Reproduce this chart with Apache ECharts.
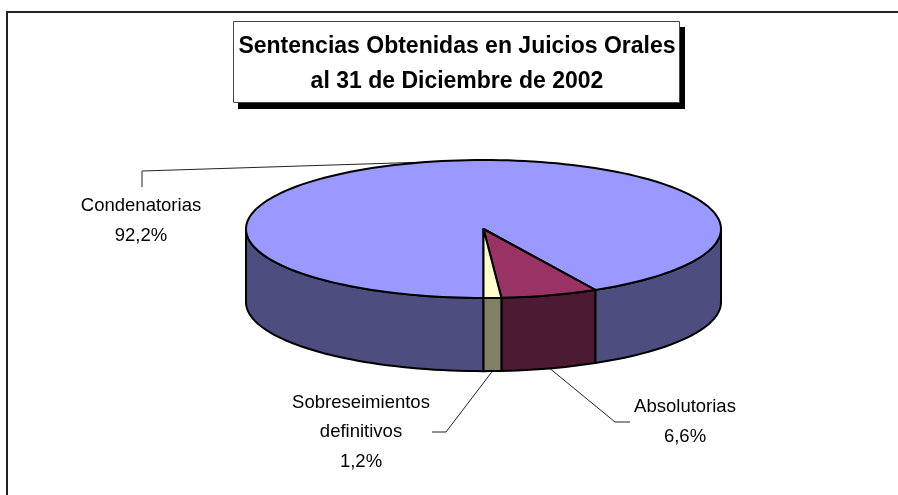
<!DOCTYPE html>
<html>
<head>
<meta charset="utf-8">
<style>
  html, body { margin: 0; padding: 0; background: #fff; }
  #chart { width: 898px; height: 495px; }
</style>
<script src="https://cdn.jsdelivr.net/npm/echarts@6/dist/echarts.min.js"></script>
</head>
<body>
<div id="chart"></div>
<script>
// datos
const categories = ['Condenatorias', 'Absolutorias', 'Sobreseimientos\ndefinitivos'];
const values = [92.2, 6.6, 1.2];
const titleText = 'Sentencias Obtenidas en Juicios Orales\nal 31 de Diciembre de 2002';

// colores de cada porcion
const topColors = ['#9999FF', '#993366', '#FFFFCC'];
const wallColors = ['#4D4D80', '#4D1A33', '#808066'];

// layout de etiquetas, en pixeles
const labelCenters = [[141, 221], [685, 422], [361, 432]];
const leaderElbows = [
  [[142, 171], [142, 187]],
  [[615, 422], [630, 422]],
  [[446, 432], [432, 432]]
];

const firstSliceAngle = 180;
const depth = 1.06; // alto de la pared en unidades del eje y

const total = values.reduce((a, b) => a + b, 0);
let acum = firstSliceAngle;
const sliceData = values.map((v, i) => {
  const start = acum;
  acum += v / total * 360;
  return [start, acum, i];
});

function arcPoints(api, from, to, drop) {
  const pts = [];
  const n = Math.max(2, Math.ceil(Math.abs(to - from) / 2));
  for (let k = 0; k <= n; k++) {
    const a = (from + (to - from) * k / n) * Math.PI / 180;
    pts.push(api.coord([Math.sin(a), Math.cos(a) - drop]));
  }
  return pts;
}

function renderSlice(params, api) {
  const start = api.value(0);
  const end = api.value(1);
  const i = api.value(2);
  const line = { stroke: '#000', lineWidth: 2, lineJoin: 'round' };
  const children = [];

  // paredes visibles: solo la mitad frontal de la elipse
  [[90, 270], [450, 630]].forEach(range => {
    const from = Math.max(start, range[0]);
    const to = Math.min(end, range[1]);
    if (to <= from) return;
    const upper = arcPoints(api, from, to, 0);
    const lower = arcPoints(api, from, to, depth).reverse();
    children.push({
      type: 'polygon',
      shape: { points: upper.concat(lower) },
      style: Object.assign({ fill: wallColors[i] }, line)
    });
  });

  // cara superior
  const center = api.coord([0, 0]);
  children.push({
    type: 'polygon',
    shape: { points: [center].concat(arcPoints(api, start, end, 0)) },
    style: Object.assign({ fill: topColors[i] }, line)
  });

  // linea guia desde la mitad de la porcion
  const mid = (start + end) / 2;
  const midNorm = mid % 360;
  const front = midNorm > 90 && midNorm < 270;
  const midRad = mid * Math.PI / 180;
  const anchor = api.coord([Math.sin(midRad), Math.cos(midRad) - (front ? depth : 0)]);
  children.unshift({
    type: 'polyline',
    shape: { points: [anchor].concat(leaderElbows[i]) },
    style: { stroke: '#222', lineWidth: 1, fill: null }
  });

  // etiqueta
  children.push({
    type: 'text',
    style: {
      text: categories[i] + '\n' + values[i].toFixed(1).replace('.', ',') + '%',
      x: labelCenters[i][0],
      y: labelCenters[i][1],
      align: 'center',
      verticalAlign: 'middle',
      fill: '#000',
      font: '18.5px "Liberation Sans", Arial, sans-serif',
      lineHeight: 29.5
    }
  });

  return { type: 'group', children: children };
}

const myChart = echarts.init(document.getElementById('chart'), null, { renderer: 'canvas' });
myChart.setOption({
  animation: false,
  backgroundColor: '#fff',
  title: {
    text: titleText,
    left: 457,
    top: 29,
    textAlign: 'center',
    padding: 0,
    textStyle: {
      fontFamily: '"Liberation Sans", Arial, sans-serif',
      fontWeight: 'bold',
      fontSize: 23,
      lineHeight: 35,
      color: '#000'
    }
  },
  grid: { left: 246, top: 160, width: 475, height: 138 },
  xAxis: { type: 'value', min: -1, max: 1, show: false },
  yAxis: { type: 'value', min: -1, max: 1, show: false },
  graphic: [
    // marco
    {
      type: 'polyline',
      shape: { points: [[7, 495], [7, 12], [898, 12]] },
      style: { stroke: '#222', lineWidth: 2, fill: null }
    },
    // caja del titulo con sombra
    { type: 'rect', shape: { x: 238, y: 27, width: 447, height: 82 }, style: { fill: '#000' } },
    {
      type: 'rect',
      shape: { x: 233.5, y: 21.5, width: 446, height: 81 },
      style: { fill: '#fff', stroke: '#444', lineWidth: 1 }
    }
  ],
  series: [{
    type: 'custom',
    coordinateSystem: 'cartesian2d',
    renderItem: renderSlice,
    data: sliceData,
    clip: false,
    silent: true
  }]
});
</script>
</body>
</html>
